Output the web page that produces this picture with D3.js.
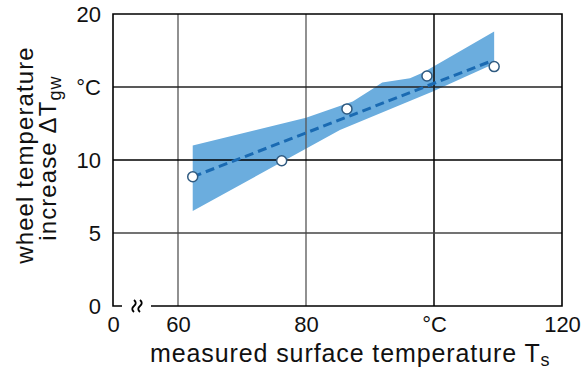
<!DOCTYPE html>
<meta charset="utf-8">
<style>
body { margin: 0; background: #fff; }
svg { display: block; font-family: "Liberation Sans", Arial, sans-serif; }
.tick text { font-size: 22px; fill: #111; }
.axis path, .axis line { display: none; }
</style>
<body>
<div id="chart-container"></div>
<script src="https://cdnjs.cloudflare.com/ajax/libs/d3/7.8.5/d3.min.js"></script>
<script>
// measured points
var surfaceTemp = [62.3, 76.2, 86.4, 98.9, 109.4];
var wheelIncrease = [8.85, 9.95, 13.5, 15.75, 16.4];

// regression line end points
var fitX = [62.3, 109.1];
var fitY = [8.85, 16.8];

// scatter band (upper edge left->right, lower edge left->right)
var bandUpperX = [62.3, 80, 87.3, 90.5, 91.9, 96.25, 98.3, 109.4];
var bandUpperY = [11.0, 12.9, 14.0, 14.9, 15.3, 15.6, 16.0, 18.8];
var bandLowerX = [62.3, 85.3, 99.8, 109.4];
var bandLowerY = [6.5, 12.05, 14.7, 16.6];

// ticks
var xTicks = [0, 60, 80, 100, 120];
var xTickLabels = ["0", "60", "80", "°C", "120"];
var yTicks = [0, 5, 10, 15, 20];
var yTickLabels = ["0", "5", "10", "°C", "20"];

var width = 584, height = 371;
var svg = d3.select("#chart-container").append("svg")
    .attr("width", width)
    .attr("height", height);

// x axis has a break between 0 and 60
var x = d3.scaleLinear().domain([0, 60, 120]).range([113, 178, 562]);
var y = d3.scaleLinear().domain([0, 20]).range([306, 14]);

// band
var bandPts = bandUpperX.map(function(d, i) { return [d, bandUpperY[i]]; })
    .concat(bandLowerX.map(function(d, i) { return [d, bandLowerY[i]]; }).reverse());
svg.append("path")
    .attr("d", d3.line().x(function(d) { return x(d[0]); }).y(function(d) { return y(d[1]); })(bandPts) + "Z")
    .attr("fill", "#6badde");

// grid lines
var vGrid = [{v: 60, c: "#555", w: 1.3}, {v: 80, c: "#555", w: 1.3}, {v: 100, c: "#111", w: 1.6}];
var hGrid = [{v: 5, c: "#444", w: 1.3}, {v: 10, c: "#000", w: 1.6}, {v: 15, c: "#222", w: 1.4}];
svg.selectAll(".vgrid").data(vGrid).enter().append("line")
    .attr("x1", function(d) { return x(d.v); }).attr("x2", function(d) { return x(d.v); })
    .attr("y1", y(20)).attr("y2", y(0))
    .attr("stroke", function(d) { return d.c; }).attr("stroke-width", function(d) { return d.w; });
svg.selectAll(".hgrid").data(hGrid).enter().append("line")
    .attr("x1", x(0)).attr("x2", x(120))
    .attr("y1", function(d) { return y(d.v); }).attr("y2", function(d) { return y(d.v); })
    .attr("stroke", function(d) { return d.c; }).attr("stroke-width", function(d) { return d.w; });

// frame
var frame = svg.append("g").attr("stroke", "#000").attr("stroke-width", 1.6).attr("fill", "none");
frame.append("path").attr("d",
    "M" + (x(0) + 9) + "," + y(0) + "H" + x(0) + "V" + y(20) + "H" + x(120) + "V" + y(0) + "H" + (x(0) + 38));
// break mark
[x(0) + 22, x(0) + 28].forEach(function(bx) {
    frame.append("path")
        .attr("stroke-width", 1.8)
        .attr("d", "M" + (bx - 1) + "," + (y(0) - 6) + "q3.5,3 0,6 q-3.5,3 0,6");
});

// dashed fit line
svg.append("line")
    .attr("x1", x(fitX[0])).attr("y1", y(fitY[0]))
    .attr("x2", x(fitX[1])).attr("y2", y(fitY[1]))
    .attr("stroke", "#1a6ab2").attr("stroke-width", 3)
    .attr("stroke-dasharray", "9,5");

// points
svg.selectAll(".pt").data(surfaceTemp).enter().append("circle")
    .attr("cx", function(d) { return x(d); })
    .attr("cy", function(d, i) { return y(wheelIncrease[i]); })
    .attr("r", 5)
    .attr("fill", "#fff")
    .attr("stroke", "#2f5a80")
    .attr("stroke-width", 1.5);

// axes (labels only)
var xAxis = d3.axisBottom(x).tickValues(xTicks).tickSize(0).tickPadding(0)
    .tickFormat(function(d, i) { return xTickLabels[i]; });
svg.append("g").attr("class", "axis").attr("transform", "translate(0,316)").call(xAxis)
    .selectAll("text").attr("dy", "0.71em");

var yAxis = d3.axisLeft(y).tickValues(yTicks).tickSize(0).tickPadding(0)
    .tickFormat(function(d, i) { return yTickLabels[i]; });
svg.append("g").attr("class", "axis").attr("transform", "translate(101,0)").call(yAxis);

svg.selectAll(".axis").attr("font-family", null).attr("font-size", null);

// axis titles
var xt = svg.append("text")
    .attr("x", 150).attr("y", 362)
    .attr("font-size", 25).attr("letter-spacing", 0.9).attr("fill", "#111");
xt.append("tspan").text("measured surface temperature T");
xt.append("tspan").attr("dy", 4).attr("font-size", 18).text("s");

var yt = svg.append("g").attr("transform", "rotate(-90)")
    .attr("font-size", 24).attr("letter-spacing", 1.1).attr("fill", "#111")
    .attr("text-anchor", "middle");
yt.append("text").attr("x", -155).attr("y", 33).text("wheel temperature");
var yt2 = yt.append("text").attr("x", -158).attr("y", 56);
yt2.append("tspan").text("increase ΔT");
yt2.append("tspan").attr("dy", 5).attr("font-size", 18).text("gw");
</script>
</body>
</html>
